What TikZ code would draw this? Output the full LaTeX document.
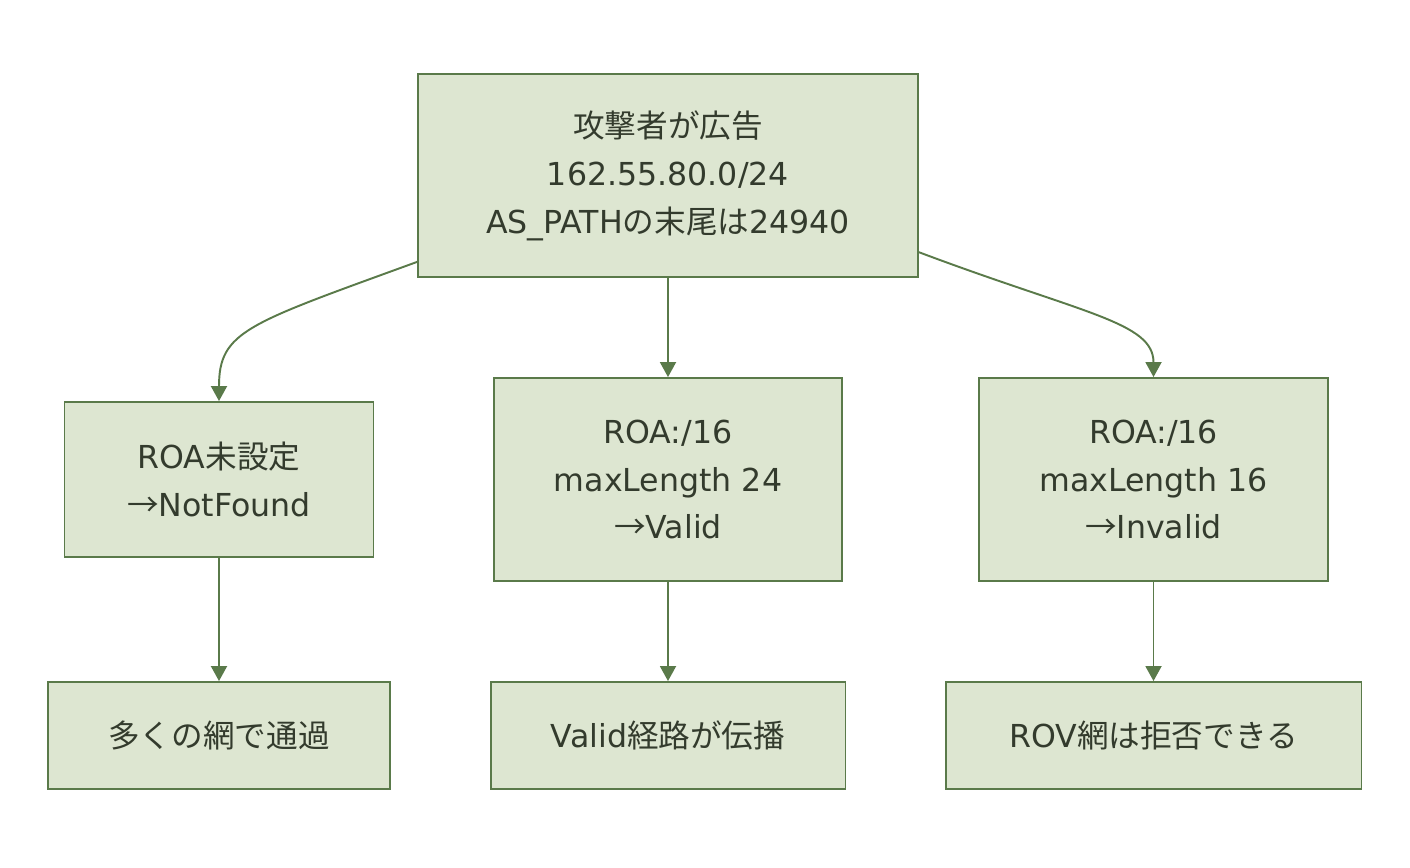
\documentclass[tikz,border=0pt]{standalone}
\usepackage{fontspec}
\usepackage{xcolor}
\setmainfont{DejaVu Sans}
\newfontfamily\jpfont{Noto Sans CJK JP}
\newcommand{\jtext}[1]{{\jpfont #1}}
\usetikzlibrary{arrows.meta}

\definecolor{boxfill}{HTML}{DDE6D1}
\definecolor{boxline}{HTML}{5A7A4A}
\definecolor{boxtext}{HTML}{333B2D}

\begin{document}
\begin{tikzpicture}[x=0.02cm, y=-0.02cm,
        box/.style={draw=boxline, fill=boxfill, line width=1.1pt, align=center,
            text=boxtext, font=\fontsize{18}{27.3}\selectfont, inner sep=0pt},
        link/.style={draw=boxline, line width=1.1pt,
            -{Triangle[width=0.32cm, length=0.3cm]}}]
        \useasboundingbox (0, 0) rectangle (1410, 868);

        \node[box, minimum width=10cm, minimum height=4.06cm] (attack) at (668, 175.5)
            {\jtext{攻撃者が広告}\\162.55.80.0/24\\AS\_PATH\jtext{の末尾は}24940};

        \node[box, minimum width=6.18cm, minimum height=3.1cm] (notfound) at (219, 479.5)
            {ROA\jtext{未設定}\\\jtext{→}NotFound};
        \node[box, minimum width=6.96cm, minimum height=4.06cm] (valid) at (668, 479.5)
            {ROA:/16\\maxLength 24\\\jtext{→}Valid};
        \node[box, minimum width=6.98cm, minimum height=4.06cm] (invalid) at (1153.5, 479.5)
            {ROA:/16\\maxLength 16\\\jtext{→}Invalid};

        \node[box, minimum width=6.84cm, minimum height=2.14cm] (pass) at (219, 735.5)
            {\jtext{多くの網で通過}};
        \node[box, minimum width=7.1cm, minimum height=2.14cm] (spread) at (668, 735.5)
            {Valid\jtext{経路が伝播}};
        \node[box, minimum width=8.32cm, minimum height=2.14cm] (reject) at (1153.5, 735.5)
            {ROV\jtext{網は拒否できる}};

        \draw[link] (attack.199) .. controls +(-170, 62) and +(0, -70) .. (notfound.north);
        \draw[link] (attack.south) -- (valid.north);
        \draw[link] (attack.-17) .. controls +(165, 62) and +(0, -55) .. (invalid.north);

        \draw[link] (notfound.south) -- (pass.north);
        \draw[link] (valid.south) -- (spread.north);
        \draw[link] (invalid.south) -- (reject.north);
    \end{tikzpicture}
\end{document}
